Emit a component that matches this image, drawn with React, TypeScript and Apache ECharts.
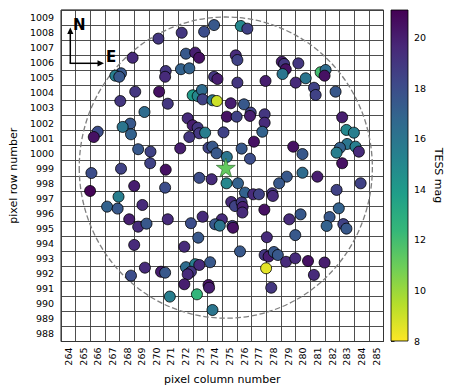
import React, { useEffect, useRef } from "react";
import * as echarts from "echarts";

// ---- tick labels ----
const colTicks = [264, 265, 266, 267, 268, 269, 270, 271, 272, 273, 274, 275, 276, 277, 278, 279, 280, 281, 282, 283, 284, 285];
const rowTicks = [988, 989, 990, 991, 992, 993, 994, 995, 996, 997, 998, 999, 1000, 1001, 1002, 1003, 1004, 1005, 1006, 1007, 1008, 1009];
const magTicks = [8, 10, 12, 14, 16, 18, 20];
const magRange = [8, 21.1];

// ---- target and aperture ----
const targetCol = 274.74;
const targetRow = 999.04;
const targetMag = 11.2;
const apertureRadius = 10;

// ---- nearby stars ----
const starCol = [
  270.14, 268.38, 267.59, 267.2, 267.47, 270.64, 270.6, 268.56, 270.19, 267.54,
  270.78, 269.19, 268.22, 267.7, 268.27, 266.0, 265.73, 268.76, 269.6, 269.58,
  267.59, 265.57, 270.64, 273.94, 275.76, 276.21, 271.73, 273.26, 272.02, 272.65,
  272.92, 275.42, 275.53, 271.68, 272.25, 273.94, 274.17, 275.53, 277.45, 272.48,
  272.82, 273.11, 273.16, 273.83, 274.13, 275.08, 275.98, 272.14, 272.48, 272.82,
  272.93, 273.33, 274.81, 275.48, 276.44, 276.39, 277.39, 277.39, 277.23, 274.58,
  272.25, 271.63, 273.56, 273.83, 274.11, 274.81, 275.82, 276.66, 276.39, 272.93,
  273.77, 278.56, 278.72, 278.83, 278.61, 279.69, 279.51, 280.19, 281.21, 281.55,
  281.48, 280.76, 280.87, 282.23, 282.68, 282.97, 283.48, 279.34, 279.97, 283.02,
  282.53, 282.3, 283.59, 283.82, 282.68, 279.97, 278.9, 280.99, 265.48, 267.42,
  266.64, 267.36, 268.49, 269.05, 268.15, 268.76, 269.33, 270.6, 270.78, 268.49,
  269.22, 268.27, 270.32, 270.6, 270.92, 274.79, 275.57, 276.05, 276.61, 277.0,
  277.91, 277.95, 275.11, 275.37, 275.82, 275.89, 275.87, 277.37, 273.16, 272.36,
  274.47, 274.01, 274.33, 275.19, 275.23, 272.86, 277.54, 271.91, 275.71, 277.39,
  277.66, 278.02, 278.29, 272.02, 272.65, 272.36, 272.93, 272.14, 273.67, 277.49,
  271.91, 273.56, 273.6, 272.77, 277.84, 273.83, 278.38, 282.3, 283.94, 282.45,
  281.82, 281.62, 282.76, 282.97, 279.84, 279.07, 279.48, 278.85, 279.48, 280.35,
  281.48, 280.75,
];
const starRow = [
  1007.6, 1006.33, 1005.3, 1005.14, 1005.07, 1005.45, 1005.07, 1004.08, 1004.08, 1003.46,
  1003.28, 1002.73, 1001.96, 1001.74, 1001.25, 1001.42, 1001.07, 1000.26, 1000.1, 999.33,
  998.97, 998.68, 998.9, 1008.5, 1008.44, 1008.26, 1007.99, 1008.06, 1006.6, 1006.67,
  1006.33, 1006.49, 1006.18, 1005.57, 1005.63, 1005.07, 1004.92, 1004.68, 1004.79, 1003.84,
  1003.79, 1004.19, 1003.57, 1003.51, 1003.46, 1003.31, 1003.24, 1002.31, 1001.85, 1001.69,
  1001.32, 1001.36, 1002.42, 1002.42, 1002.69, 1002.47, 1002.58, 1002.02, 1001.42, 1001.38,
  1001.07, 1000.32, 1000.36, 1000.43, 999.99, 999.75, 1000.3, 1000.76, 999.63, 998.36,
  998.27, 1006.07, 1005.92, 1005.57, 1005.25, 1005.96, 1004.68, 1004.97, 1005.37, 1005.52,
  1005.14, 1004.34, 1003.86, 1004.08, 1002.38, 1001.54, 1001.36, 1000.43, 999.94, 1000.61,
  1000.36, 1000.03, 1000.43, 1000.1, 999.33, 998.7, 998.44, 998.44, 997.49, 997.11,
  996.45, 996.32, 997.82, 996.56, 995.61, 995.12, 995.32, 997.71, 995.61, 993.91,
  992.4, 991.87, 992.13, 992.07, 990.48, 998.0, 998.0, 997.38, 997.27, 997.27,
  997.34, 997.16, 996.76, 996.49, 996.73, 996.43, 996.06, 996.25, 995.78, 995.35,
  995.61, 995.28, 995.19, 995.17, 995.05, 994.39, 994.42, 993.79, 993.48, 993.24,
  993.14, 993.44, 993.24, 992.43, 992.63, 992.13, 992.58, 991.96, 992.76, 992.36,
  991.3, 991.25, 991.07, 990.63, 991.07, 989.59, 998.0, 997.56, 998.0, 996.34,
  995.76, 995.17, 995.29, 994.99, 995.94, 995.61, 994.56, 992.79, 993.02, 992.84,
  992.74, 991.92,
];
const starMag = [
  19, 19.5, 17.5, 15.5, 17.5, 19, 19.5, 19, 20.5, 19,
  19, 16.5, 17.5, 16, 17, 18, 20.5, 17.5, 18.5, 18.5,
  18.5, 18, 20.5, 17.5, 15, 18.5, 19, 18, 17.5, 20,
  20.5, 19.5, 18.5, 17, 17, 19, 20, 19, 20, 14,
  15, 16.5, 18.5, 16, 9, 20, 17.5, 19.5, 20, 19,
  19, 15.5, 20.5, 18.5, 18.5, 20, 19, 19.5, 17, 18.5,
  19, 20, 18.5, 17.5, 17.5, 16, 17.5, 20.5, 18, 18,
  19.5, 20, 19, 20.5, 16, 19, 19.5, 16, 12, 16.5,
  20.5, 18.5, 18.5, 17.5, 20, 15, 15.5, 20.5, 17.5, 16,
  17, 15.5, 15.5, 19.5, 20.5, 16.5, 17.5, 20, 21, 15.5,
  17, 17.5, 20, 19.5, 20, 19.5, 17.5, 18, 19.5, 19.5,
  19.5, 18, 20, 17.5, 15.5, 15, 17, 17, 19.5, 18.5,
  19, 19.5, 19.5, 18.5, 19, 20, 19.5, 20.5, 19.5, 18,
  19.5, 17.5, 16, 18.5, 20.5, 17.5, 19.5, 19.5, 17.5, 19,
  20, 17.5, 17.5, 16.5, 15.5, 19, 19.5, 19.5, 17.5, 8.5,
  20, 20.5, 20, 12.5, 19, 16, 17.5, 18.5, 18.5, 17,
  17.5, 17, 18.5, 17.5, 17.5, 19.5, 17.5, 19.5, 19.5, 20.5,
  20, 19.5,
];

const viridis = ["#440154", "#482878", "#3e4989", "#31688e", "#26828e", "#1f9e89", "#35b779", "#6ece58", "#b5de2b", "#fde725"];
const viridisR = [...viridis].reverse();
const FONT = "DejaVu Sans";
const STAR_PATH =
  "path://M0,-1 L0.2245,-0.309 L0.9511,-0.309 L0.3633,0.118 L0.5878,0.809 L0,0.382 L-0.5878,0.809 L-0.3633,0.118 L-0.9511,-0.309 L-0.2245,-0.309 Z";

export default function App() {
  const ref = useRef<HTMLDivElement>(null);
  useEffect(() => {
    if (!ref.current) return;
    const chart = echarts.init(ref.current, undefined, { renderer: "svg" });
    const points = starCol.map((c, i) => [c, starRow[i], starMag[i]]);
    const lab = { fontFamily: FONT, color: "#000" };
    const plain = (v: number) => String(v);
    const option: any = {
      animation: false,
      backgroundColor: "#fff",
      textStyle: { fontFamily: FONT },
      grid: [
        { left: 59.5, top: 10, width: 324, height: 331.5, show: true, borderColor: "#000", borderWidth: 1, backgroundColor: "transparent" },
        { left: 391, top: 10, width: 17, height: 331 },
      ],
      xAxis: [
        {
          gridIndex: 0, type: "value", min: 263.5, max: 285.5, interval: 1,
          axisLine: { show: false }, axisTick: { show: false }, axisLabel: { show: false },
          splitLine: { show: true, lineStyle: { color: "#3a3a3a", width: 0.9 } },
        },
        {
          gridIndex: 0, type: "value", min: 263.5, max: 285.5, position: "bottom",
          axisLine: { show: false }, axisTick: { show: false }, splitLine: { show: false },
          axisLabel: { ...lab, customValues: colTicks, rotate: 90, fontSize: 9.5, margin: 6, formatter: plain },
          name: "pixel column number", nameLocation: "middle", nameGap: 28,
          nameTextStyle: { ...lab, fontSize: 11 },
        },
        { gridIndex: 1, type: "value", min: 0, max: 1, show: false },
      ],
      yAxis: [
        {
          gridIndex: 0, type: "value", min: 987.5, max: 1009.5, interval: 1,
          axisLine: { show: false }, axisTick: { show: false }, axisLabel: { show: false },
          splitLine: { show: true, lineStyle: { color: "#3a3a3a", width: 0.9 } },
        },
        {
          gridIndex: 0, type: "value", min: 987.5, max: 1009.5, position: "left",
          axisLine: { show: false }, axisTick: { show: false }, splitLine: { show: false },
          axisLabel: { ...lab, customValues: rowTicks, fontSize: 9.5, margin: 7, formatter: plain },
          name: "pixel row number", nameLocation: "middle", nameGap: 36, nameRotate: 90,
          nameTextStyle: { ...lab, fontSize: 11 },
        },
        {
          gridIndex: 1, type: "value", min: magRange[0], max: magRange[1], position: "right",
          axisLine: { show: false }, splitLine: { show: false },
          axisTick: { show: true, customValues: magTicks, length: 3.5, lineStyle: { color: "#000", width: 0.8 } },
          axisLabel: { ...lab, customValues: magTicks, fontSize: 9.5, margin: 6, formatter: plain },
          name: "TESS mag", nameLocation: "middle", nameGap: 25, nameRotate: -90,
          nameTextStyle: { ...lab, fontSize: 11 },
        },
      ],
      visualMap: {
        show: false, type: "continuous", min: magRange[0], max: magRange[1], dimension: 2,
        seriesIndex: [0, 1], inRange: { color: viridisR },
      },
      series: [
        {
          type: "scatter", xAxisIndex: 0, yAxisIndex: 0, data: points, symbolSize: 11,
          itemStyle: { borderColor: "#000", borderWidth: 0.8, opacity: 1 }, z: 3, silent: true,
        },
        {
          type: "scatter", xAxisIndex: 0, yAxisIndex: 0, data: [[targetCol, targetRow, targetMag]],
          symbol: STAR_PATH, symbolSize: 19, itemStyle: { borderColor: "#2a5a2a", borderWidth: 0.6, opacity: 1 },
          z: 4, silent: true,
        },
        {
          type: "custom", xAxisIndex: 0, yAxisIndex: 0, data: [[targetCol, targetRow]], z: 2, silent: true,
          renderItem: (_p: any, api: any) => {
            const c = api.coord([api.value(0), api.value(1)]);
            const e = api.coord([api.value(0) + apertureRadius, api.value(1) + apertureRadius]);
            const rx = Math.abs(e[0] - c[0]);
            const ry = Math.abs(e[1] - c[1]);
            return {
              type: "path",
              shape: {
                pathData: `M ${c[0] - rx} ${c[1]} A ${rx} ${ry} 0 1 0 ${c[0] + rx} ${c[1]} A ${rx} ${ry} 0 1 0 ${c[0] - rx} ${c[1]} Z`,
              },
              style: { fill: "none", stroke: "#7f7f7f", lineWidth: 1.3, lineDash: [5.5, 2.6] },
            };
          },
        },
        {
          type: "custom", xAxisIndex: 2, yAxisIndex: 2, data: [[0.5, 10]], silent: true,
          renderItem: (params: any) => {
            const cs = params.coordSys;
            return {
              type: "rect",
              shape: { x: cs.x, y: cs.y, width: cs.width, height: cs.height },
              style: {
                fill: new echarts.graphic.LinearGradient(0, 0, 0, 1,
                  viridis.map((col, i) => ({ offset: i / (viridis.length - 1), color: col }))),
                stroke: "#000", lineWidth: 0.8,
              },
            };
          },
        },
      ],
      graphic: [
        { type: "line", shape: { x1: 70.3, y1: 63.3, x2: 70.3, y2: 32 }, style: { stroke: "#000", lineWidth: 1.5 }, z: 10 },
        { type: "polygon", shape: { points: [[70.3, 27.5], [67.2, 34], [73.4, 34]] }, style: { fill: "#000" }, z: 10 },
        { type: "line", shape: { x1: 69.6, y1: 63.3, x2: 100, y2: 63.3 }, style: { stroke: "#000", lineWidth: 1.5 }, z: 10 },
        { type: "polygon", shape: { points: [[104, 63.3], [97.5, 60.2], [97.5, 66.4]] }, style: { fill: "#000" }, z: 10 },
        { type: "text", x: 79.3, y: 24.5, style: { text: "N", fill: "#000", font: `bold 15px "${FONT}"`, textAlign: "center", textVerticalAlign: "middle" }, z: 10 },
        { type: "text", x: 111, y: 56.5, style: { text: "E", fill: "#000", font: `bold 15px "${FONT}"`, textAlign: "center", textVerticalAlign: "middle" }, z: 10 },
      ],
    };
    chart.setOption(option);
    return () => chart.dispose();
  }, []);
  return <div ref={ref} style={{ position: "fixed", left: 0, top: 0, width: 452, height: 390, background: "#fff" }} />;
}
